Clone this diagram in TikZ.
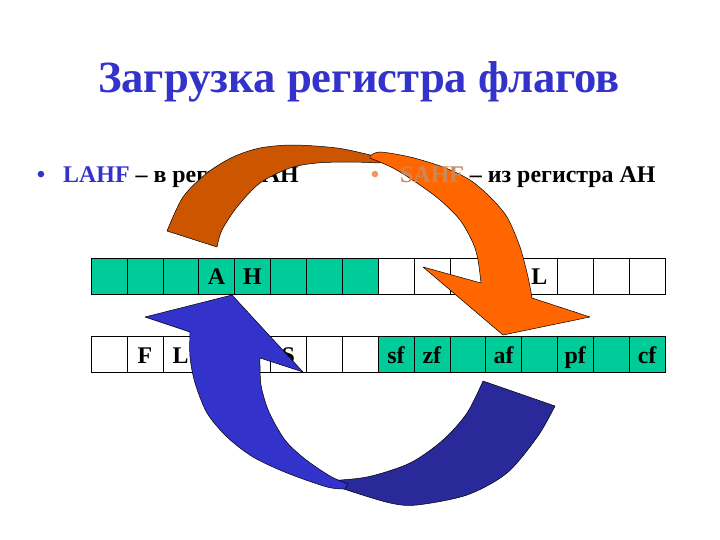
\documentclass[tikz,border=0pt]{standalone}
\usepackage{fontspec}
\setmainfont{Liberation Serif}
\definecolor{titleblue}{RGB}{51,51,204}
\definecolor{cellgreen}{RGB}{0,204,153}
\definecolor{sahforange}{RGB}{204,136,85}
\definecolor{sahfdot}{RGB}{245,150,90}
\definecolor{oback}{RGB}{204,85,0}
\definecolor{ofront}{RGB}{255,102,0}
\definecolor{bback}{RGB}{41,41,153}
\definecolor{bfront}{RGB}{51,51,204}
\begin{document}
\begin{tikzpicture}[x=1bp, y=-1bp,
    regcell/.style ={draw, minimum width=35.875bp, minimum height=36bp, inner sep=0pt,
                     text height=17bp, text depth=0pt, font=\fontsize{24}{28}\selectfont\bfseries},
    greencell/.style ={regcell, fill=cellgreen},
    whitecell/.style ={regcell, fill=white},
    bullettext/.style ={inner sep=0pt, font=\fontsize{24}{28}\selectfont\bfseries},
    band/.style ={draw=black, line width=0.5bp, line join=round}]
   \useasboundingbox (0,0) rectangle (720,540);

   \node[anchor=base, inner sep=0pt, text=titleblue, font=\fontsize{44.8}{50}\selectfont\bfseries]
      (title) at (359,93) {Загрузка регистра флагов};

   \node[bullettext, anchor=base, text=titleblue] (dot1) at (41,183) {•};
   \node[bullettext, anchor=base west] (lahf) at (63,183) {\textcolor{titleblue}{LAHF} – в регистр AH};
   \node[bullettext, anchor=base, text=sahfdot] (dot2) at (375,183) {•};

   \foreach \i/\t in {1/{},2/{},3/{},4/A,5/H,6/{},7/{},8/{}}
      \node[greencell] (ah\i) at ({91+(\i-0.5)*35.875},276) {\t};
   \foreach \i/\t in {9/{},10/{},11/{},12/{},13/L,14/{},15/{},16/{}}
      \node[whitecell] (al\i) at ({91+(\i-0.5)*35.875},276) {\t};
   \foreach \i/\t in {1/{},2/F,3/L,4/{},5/{},6/S,7/{},8/{}}
      \node[whitecell] (fl\i) at ({91+(\i-0.5)*35.875},354.5) {\t};
   \foreach \i/\t in {9/sf,10/zf,11/{},12/af,13/{},14/pf,15/{},16/cf}
      \node[greencell] (fl\i) at ({91+(\i-0.5)*35.875},354.5) {\t};

   \filldraw[band, fill=oback] plot[smooth] coordinates {(167,231) (183,197) (207,173) (233,157) (260,148) (293,145) (337,148) (370,155) (384,160)}
      -- plot[smooth] coordinates {(380,163) (350,162) (317,163) (290,168) (260,183) (237,207) (222,230) (217,247)} -- cycle;
   \filldraw[band, fill=ofront] plot[smooth] coordinates {(370,156) (380,152) (410,157) (443,167) (470,180) (490,197) (507,217) (520,247) (528,277) (532,298)}
      -- (590,317) -- (503,335) -- (423,267)
      -- plot[smooth] coordinates {(481,283) (478,260) (473,243) (460,220) (440,200) (417,183) (393,168) (370,158)} -- cycle;

   \node[bullettext, anchor=base west] (sahf) at (400,183) {\textcolor{sahforange}{SAHF} – из регистра AH};

   \filldraw[band, fill=bback] plot[smooth] coordinates {(325,481) (347,490) (390,503) (417,505) (467,495) (507,473) (538,436) (555,406)}
      -- plot[smooth] coordinates {(483,381) (467,413) (443,440) (410,463) (367,477) (325,481)} -- cycle;
   \filldraw[band, fill=bfront] (232,295) -- (303,372)
      -- plot[smooth] coordinates {(260,358) (261,385) (269,412) (285,440) (305,459) (330,476) (348,484)}
      -- plot[smooth] coordinates {(345,489) (327,487) (287,473) (253,457) (227,437) (207,413) (195,383) (190,357) (190,332)}
      -- (145,317) -- cycle;
\end{tikzpicture}
\end{document}
